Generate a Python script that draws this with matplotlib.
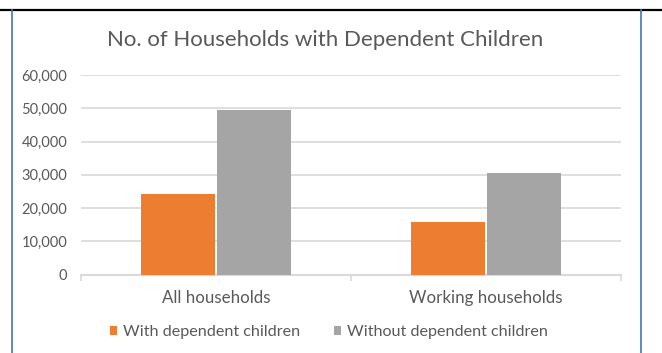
import matplotlib
matplotlib.use("Agg")
import matplotlib.pyplot as plt
from matplotlib.lines import Line2D
import numpy as np

categories = ["All households", "Working households"]
series_names = ["With dependent children", "Without dependent children"]
with_children = [24300, 15700]
without_children = [49400, 30500]
yticks = [0, 10000, 20000, 30000, 40000, 50000, 60000]
ytick_labels = ["0", "10,000", "20,000", "30,000", "40,000", "50,000", "60,000"]
title = "No. of Households with Dependent Children"

plt.rcParams['font.family'] = ['Lato', 'DejaVu Sans']
TXT = "#595959"
GRID = "#D9D9D9"
ORANGE = "#ED7D31"
GRAY = "#A5A5A5"

W, H = 662, 353
fig = plt.figure(figsize=(W / 100, H / 100), dpi=100)
fig.patch.set_facecolor("white")

ax = fig.add_axes([81 / W, 1 - 274.5 / H, (621 - 81) / W, (274.5 - 75) / H])
x = np.arange(len(categories))
bw = 0.274
off = 0.1425
ax.bar(x - off, with_children, bw, color=ORANGE, label=series_names[0], zorder=3)
ax.bar(x + off, without_children, bw, color=GRAY, label=series_names[1], zorder=3)

ax.set_xlim(-0.5, len(categories) - 0.5)
ax.set_ylim(0, 60000)
ax.set_yticks(yticks)
ax.set_yticklabels(ytick_labels, color=TXT, fontsize=10.5)
ax.set_xticks(x)
ax.set_xticklabels(categories, color=TXT, fontsize=12.2)
ax.tick_params(axis='y', length=0, pad=10)
ax.tick_params(axis='x', which='major', length=0, pad=11)
ax.set_xticks([-0.5, 0.5, 1.5], minor=True)
ax.tick_params(axis='x', which='minor', length=4, width=1.2, color=GRID)
ax.yaxis.grid(True, color=GRID, linewidth=1.2, zorder=0)
for s in ["top", "right", "left"]:
    ax.spines[s].set_visible(False)
ax.spines["bottom"].set_color(GRID)
ax.spines["bottom"].set_linewidth(1.5)

fig.text(325 / W, 1 - 40 / H, title, ha="center", va="center", color=TXT, fontsize=16)

leg = fig.legend(loc="center", bbox_to_anchor=(329 / W, 1 - 332 / H), ncol=2,
                 frameon=False, fontsize=11.6, handlelength=0.45, handleheight=0.45,
                 handletextpad=0.35, columnspacing=2.1, labelcolor=TXT)

# page decorations: black rule at top and blue chart border
fig.add_artist(Line2D([0, 1], [1 - 10 / H, 1 - 10 / H], color="black", linewidth=1.6,
                      transform=fig.transFigure))
fig.add_artist(Line2D([12 / W, 12 / W], [0, 1 - 10 / H], color="#4472C4", linewidth=1.2,
                      transform=fig.transFigure))
fig.add_artist(Line2D([641 / W, 641 / W], [0, 1 - 10 / H], color="#4472C4", linewidth=1.2,
                      transform=fig.transFigure))

fig.savefig("out.png", dpi=100)
